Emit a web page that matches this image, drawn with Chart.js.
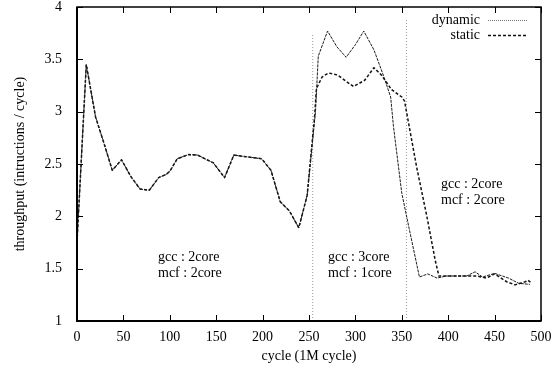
<!DOCTYPE html>
<html>
<head>
<meta charset="utf-8">
<script src="https://cdn.jsdelivr.net/npm/chart.js@4"></script>
<style>
  html, body { margin: 0; padding: 0; background: #fff; }
  #wrap { width: 560px; height: 369px; }
</style>
</head>
<body>
<div id="wrap"><canvas id="myChart" width="560" height="369"></canvas></div>
<script>
// cycle (1M cycle) for each sample
const dynamicX = [0, 10, 20, 29, 38, 48, 58, 68, 78, 88, 96, 100, 108, 120, 130, 147, 159, 169, 199, 209, 219, 229, 239,
  248, 257, 260, 270, 280, 290, 300, 309, 320, 330, 338, 341, 350, 358, 369, 378, 388, 398, 420, 429, 437, 450, 465, 476, 488];
const dynamicY = [1.75, 3.45, 2.95, 2.70, 2.44, 2.54, 2.38, 2.26, 2.25, 2.37, 2.40, 2.43, 2.55, 2.59, 2.585, 2.51, 2.37, 2.585, 2.55, 2.44, 2.14, 2.05, 1.89,
  2.20, 3.00, 3.53, 3.77, 3.62, 3.52, 3.64, 3.77, 3.59, 3.35, 3.14, 2.86, 2.22, 1.88, 1.42, 1.45, 1.41, 1.43, 1.43, 1.47, 1.42, 1.455, 1.41, 1.36, 1.35];

const staticX = [0, 10, 20, 29, 38, 48, 58, 68, 78, 88, 96, 100, 108, 120, 130, 147, 159, 169, 199, 209, 219, 229, 239,
  248, 256, 258, 264, 271, 281, 290, 298, 310, 320, 328, 339, 350, 353, 366, 377, 386, 390, 398, 423, 431, 441, 450, 463, 472, 483, 486, 490];
const staticY = [1.75, 3.45, 2.95, 2.70, 2.44, 2.54, 2.38, 2.26, 2.25, 2.37, 2.40, 2.43, 2.55, 2.59, 2.585, 2.51, 2.37, 2.585, 2.55, 2.44, 2.14, 2.05, 1.89,
  2.20, 2.95, 3.22, 3.33, 3.37, 3.35, 3.29, 3.24, 3.30, 3.42, 3.35, 3.21, 3.14, 3.10, 2.47, 2.00, 1.58, 1.43, 1.43, 1.43, 1.43, 1.41, 1.45, 1.375, 1.345, 1.375, 1.39, 1.36];

// phase boundaries (cycle) and how high their markers reach
const phaseX = [254, 355];
const phaseTop = [3.75, 3.88];

const seriesNames = ['dynamic', 'static'];
const xTicks = [0, 50, 100, 150, 200, 250, 300, 350, 400, 450, 500];
const yTicks = [1, 1.5, 2, 2.5, 3, 3.5, 4];

const notes = [
  { text: 'gcc : 2core', x: 158, y: 257 },
  { text: 'mcf : 2core', x: 158, y: 273 },
  { text: 'gcc : 3core', x: 328, y: 257 },
  { text: 'mcf : 1core', x: 328, y: 273 },
  { text: 'gcc : 2core', x: 441, y: 184 },
  { text: 'mcf : 2core', x: 441, y: 200 },
];

const FONT = '"Liberation Serif", "Times New Roman", serif';
const pts = (xs, ys) => xs.map((x, i) => ({ x: x, y: ys[i] }));

const dynStyle = { borderColor: '#1a1a1a', borderWidth: 1, borderDash: [3, 1] };
const staStyle = { borderColor: '#111', borderWidth: 1.5, borderDash: [3, 2] };

const datasets = [
  Object.assign({ label: seriesNames[0], data: pts(dynamicX, dynamicY) }, dynStyle),
  Object.assign({ label: seriesNames[1], data: pts(staticX, staticY) }, staStyle),
];
phaseX.forEach((px, i) => {
  datasets.push({
    label: 'phase' + i,
    data: [{ x: px, y: 1 }, { x: px, y: phaseTop[i] }],
    borderColor: '#9a9a9a', borderWidth: 1, borderDash: [1, 2],
  });
});

// frame, inward ticks, legend and phase notes
const decor = {
  id: 'decor',
  afterDraw(chart) {
    const ctx = chart.ctx;
    const a = chart.chartArea;
    const xs = chart.scales.x, ys = chart.scales.y;
    ctx.save();
    ctx.strokeStyle = '#000';
    ctx.lineWidth = 1;
    ctx.beginPath();
    xTicks.forEach(v => {
      const p = Math.round(xs.getPixelForValue(v)) + 0.5;
      ctx.moveTo(p, a.bottom); ctx.lineTo(p, a.bottom - 6);
      ctx.moveTo(p, a.top); ctx.lineTo(p, a.top + 6);
    });
    yTicks.forEach(v => {
      const p = Math.round(ys.getPixelForValue(v)) + 0.5;
      ctx.moveTo(a.left, p); ctx.lineTo(a.left + 6, p);
      ctx.moveTo(a.right, p); ctx.lineTo(a.right - 6, p);
    });
    ctx.stroke();

    ctx.lineWidth = 1.5;
    ctx.strokeRect(a.left, a.top, a.right - a.left, a.bottom - a.top);
    ctx.lineWidth = 2;
    ctx.beginPath();
    ctx.moveTo(a.left, a.top); ctx.lineTo(a.left, a.bottom); ctx.lineTo(a.right, a.bottom);
    ctx.stroke();

    // legend
    ctx.font = '14px ' + FONT;
    ctx.fillStyle = '#000';
    ctx.textAlign = 'right';
    ctx.textBaseline = 'middle';
    [dynStyle, staStyle].forEach((st, i) => {
      const y = 20 + i * 15;
      ctx.fillText(seriesNames[i], 480, y);
      ctx.beginPath();
      ctx.strokeStyle = i === 0 ? '#777' : st.borderColor;
      ctx.lineWidth = i === 0 ? 1 : st.borderWidth;
      ctx.setLineDash(i === 0 ? [1, 1] : st.borderDash);
      ctx.moveTo(488, y + 0.5); ctx.lineTo(527, y + 0.5);
      ctx.stroke();
    });
    ctx.setLineDash([]);

    ctx.textAlign = 'left';
    notes.forEach(n => ctx.fillText(n.text, n.x, n.y));
    ctx.restore();
  }
};

const config = {
  type: 'line',
  data: { datasets: datasets },
  options: {
    responsive: false,
    animation: false,
    layout: { padding: { left: 0, right: 19, top: 7, bottom: 0 } },
    elements: { point: { radius: 0 }, line: { tension: 0, borderJoinStyle: 'round' } },
    plugins: { legend: { display: false }, tooltip: { enabled: false } },
    scales: {
      x: {
        type: 'linear', min: 0, max: 500,
        grid: { display: false, drawTicks: false },
        border: { display: false },
        ticks: { stepSize: 50, padding: 8, color: '#000', font: { family: FONT, size: 14 } },
        title: { display: true, text: 'cycle (1M cycle)', color: '#000', padding: { top: 0, bottom: 4 },
          font: { family: FONT, size: 14 } },
        afterFit(s) { s.height = 48; s.paddingLeft = 0; s.paddingRight = 0; }
      },
      y: {
        min: 1, max: 4,
        grid: { display: false, drawTicks: false },
        border: { display: false },
        ticks: { stepSize: 0.5, padding: 15, color: '#000', font: { family: FONT, size: 14 },
          callback: v => String(v) },
        title: { display: true, text: 'throughput (intructions / cycle)', color: '#000', padding: { top: 12, bottom: 0 },
          font: { family: FONT, size: 14 } },
        afterFit(s) { s.width = 77; s.paddingTop = 0; s.paddingBottom = 0; }
      }
    }
  },
  plugins: [decor]
};

const myChart = new Chart(document.getElementById('myChart'), config);
</script>
</body>
</html>
